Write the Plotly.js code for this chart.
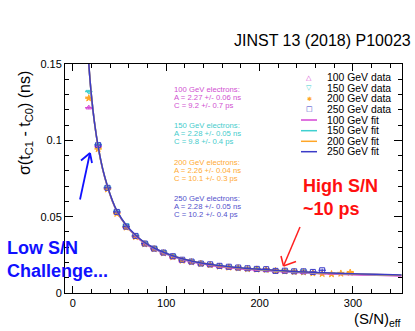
<!DOCTYPE html>
<html><head><meta charset="utf-8">
<script src="https://cdn.plot.ly/plotly-3.0.1.min.js"></script>
<style>html,body{margin:0;padding:0;background:#fff;}#chart{width:415px;height:331px;}</style>
</head><body><div id="chart"></div>
<script>
// ---- data ----
const snX = [17, 27, 37, 47, 57, 67, 77, 87, 97, 107, 117, 127, 137, 147, 157, 167, 177, 187, 197, 207, 217, 227, 237, 247, 257, 267, 277, 287, 297];
const sig100 = [0.1214, 0.0960, 0.0685, 0.0528, 0.0428, 0.0370, 0.0318, 0.0285, 0.0258, 0.0232, 0.0208, 0.0200, 0.0190, 0.0180, 0.0172, 0.0164, 0.0160, 0.0156, 0.0150, 0.0150, 0.0140, 0.0140, 0.0138, 0.0135, 0.0133];
const sig150 = [0.1319, 0.0972, 0.0693, 0.0536, 0.0445, 0.0378, 0.0328, 0.0296, 0.0270, 0.0244, 0.0216, 0.0208, 0.0195, 0.0186, 0.0176, 0.0170, 0.0165, 0.0160, 0.0157, 0.0152, 0.0143, 0.0145, 0.0141, 0.0143];
const sig200 = [0.1276, 0.0943, 0.0680, 0.0520, 0.0430, 0.0368, 0.0320, 0.0288, 0.0262, 0.0236, 0.0213, 0.0203, 0.0192, 0.0184, 0.0174, 0.0168, 0.0163, 0.0158, 0.0155, 0.0153, 0.0146, 0.0143, 0.0139, 0.0137, 0.0130, 0.0126, 0.0124, 0.0128, 0.0134];
const snX250 = [27, 37, 47, 57, 67, 77, 87, 97, 107, 117, 127, 137, 147, 157, 167, 177, 187, 197, 207, 217, 227, 237, 247, 257, 267];
const sig250 = [0.0969, 0.0689, 0.0531, 0.0435, 0.0374, 0.0324, 0.0291, 0.0265, 0.0241, 0.0218, 0.0206, 0.0193, 0.0188, 0.0178, 0.0172, 0.0167, 0.0162, 0.0158, 0.0156, 0.0145, 0.0146, 0.0142, 0.0142, 0.0138, 0.0149];
const errX = 4, errY = 0.001;

const fitX = [15, 17, 20, 23, 27, 32, 37, 42, 47, 57, 67, 77, 87, 97, 110, 127, 150, 175, 200, 225, 250, 275, 300, 325, 352];
const fit100 = [0.170, 0.150, 0.128, 0.112, 0.0955, 0.0805, 0.0695, 0.0605, 0.0535, 0.0440, 0.0374, 0.0324, 0.0289, 0.0261, 0.0232, 0.0204, 0.0179, 0.0161, 0.0149, 0.0139, 0.0131, 0.0125, 0.0120, 0.0116, 0.0112];
const fit150 = [0.170, 0.150, 0.128, 0.112, 0.0958, 0.0808, 0.0698, 0.0608, 0.0538, 0.0443, 0.0378, 0.0328, 0.0293, 0.0265, 0.0236, 0.0208, 0.0183, 0.0165, 0.0153, 0.0143, 0.0135, 0.0129, 0.0124, 0.0120, 0.0116];
const fit200 = [0.170, 0.150, 0.128, 0.112, 0.0958, 0.0808, 0.0698, 0.0608, 0.0538, 0.0443, 0.0378, 0.0328, 0.0294, 0.0266, 0.0237, 0.0209, 0.0184, 0.0166, 0.0154, 0.0144, 0.0136, 0.0130, 0.0125, 0.0121, 0.0117];
const fit250 = [0.170, 0.150, 0.128, 0.112, 0.0960, 0.0810, 0.0700, 0.0610, 0.0540, 0.0445, 0.0380, 0.0330, 0.0295, 0.0267, 0.0238, 0.0210, 0.0185, 0.0167, 0.0155, 0.0145, 0.0137, 0.0131, 0.0126, 0.0122, 0.0118];

const seriesNames = ['100 GeV', '150 GeV', '200 GeV', '250 GeV'];
const colors = ['#d445d4', '#3fd0d0', '#ffa628', '#3b3bc8'];
const textColors = ['#d050d0', '#45cccc', '#ffaa33', '#5252cc'];
const statLines = [
  ['100 GeV electrons:', 'A = 2.27 +/- 0.06 ns', 'C = 9.2 +/- 0.7 ps'],
  ['150 GeV electrons:', 'A = 2.28 +/- 0.05 ns', 'C = 9.8 +/- 0.4 ps'],
  ['200 GeV electrons:', 'A = 2.26 +/- 0.04 ns', 'C = 10.1 +/- 0.3 ps'],
  ['250 GeV electrons:', 'A = 2.28 +/- 0.05 ns', 'C = 10.2 +/- 0.4 ps']
];
const legendLabels = ['100 GeV data', '150 GeV data', '200 GeV data', '250 GeV data', '100 GeV fit', '150 GeV fit', '200 GeV fit', '250 GeV fit'];
const xTicks = [0, 100, 200, 300];
const yTicks = [0, 0.05, 0.1, 0.15];
const yTickText = ['0', '0.05', '0.1', '0.15'];

// ---- layout helpers (pixel -> paper) ----
const M = {l: 65, r: 13, t: 64, b: 38};
const W = 415, H = 331;
const PW = W - M.l - M.r, PH = H - M.t - M.b;
const px = v => (v - M.l) / PW;
const py = v => (H - M.b - v) / PH;
const FONT = 'Liberation Sans, Arial, Helvetica, sans-serif';

const symbols = ['triangle-up-open', 'triangle-down-open', 'star', 'square-open'];
const dataX = [snX.slice(0, sig100.length), snX.slice(0, sig150.length), snX.slice(0, sig200.length), snX250];
const dataY = [sig100, sig150, sig200, sig250];
const fitsY = [fit100, fit150, fit200, fit250];

const traces = [];
for (let i = 0; i < 4; i++) {
  traces.push({
    x: dataX[i], y: dataY[i], type: 'scatter', mode: 'markers', showlegend: false,
    marker: {symbol: symbols[i], size: 5, color: colors[i], line: {color: colors[i], width: 1}},
    error_x: {type: 'constant', value: errX, width: 0, color: colors[i], thickness: 1.2},
    error_y: {type: 'constant', value: errY, width: 0, color: colors[i], thickness: 1}
  });
}
for (let i = 0; i < 4; i++) {
  traces.push({
    x: fitX, y: fitsY[i], type: 'scatter', mode: 'lines', showlegend: false,
    line: {color: colors[i], width: 1.5, shape: 'spline', smoothing: 1}
  });
}

const annotations = [];
const shapes = [];
// stats text
const statTop = [89.5, 125.7, 162.3, 198.7];
for (let i = 0; i < 4; i++) {
  for (let j = 0; j < 3; j++) {
    annotations.push({xref: 'paper', yref: 'paper', x: px(173), y: py(statTop[i] + j * 8.1),
      xanchor: 'left', yanchor: 'middle', showarrow: false, text: statLines[i][j], borderpad: 0,
      font: {family: FONT, size: 7.7, color: textColors[i]}});
  }
}
// manual legend
const legRows = [77.7, 88.3, 98.7, 109, 120, 130.7, 141.3, 151.7];
const legGlyph = ['△', '▽', '✱', '□'];
for (let k = 0; k < 8; k++) {
  annotations.push({xref: 'paper', yref: 'paper', x: px(326), y: py(legRows[k]), xanchor: 'left', yanchor: 'middle',
    showarrow: false, text: legendLabels[k], borderpad: 0, font: {family: FONT, size: 10.4, color: '#000'}});
  if (k < 4) {
    annotations.push({xref: 'paper', yref: 'paper', x: px(309), y: py(legRows[k]), xanchor: 'center', yanchor: 'middle',
      showarrow: false, text: legGlyph[k], borderpad: 0, font: {family: 'DejaVu Sans', size: k === 2 ? 6 : 7, color: colors[k]}});
  } else {
    shapes.push({type: 'line', xref: 'paper', yref: 'paper', x0: px(301), x1: px(317), y0: py(legRows[k]), y1: py(legRows[k]),
      line: {color: colors[k - 4], width: 1.5}});
  }
}
// titles and notes
annotations.push({xref: 'paper', yref: 'paper', x: px(413), y: py(40), xanchor: 'right', yanchor: 'middle', showarrow: false,
  text: 'JINST 13 (2018) P10023', font: {family: FONT, size: 16, color: '#000'}});
annotations.push({xref: 'paper', yref: 'paper', x: px(403), y: py(319), xanchor: 'right', yanchor: 'middle', showarrow: false,
  text: '(S/N)<sub>eff</sub>', font: {family: FONT, size: 15, color: '#000'}});
annotations.push({xref: 'paper', yref: 'paper', x: px(25), y: py(123), xanchor: 'center', yanchor: 'middle', showarrow: false,
  textangle: -90, text: 'σ(t<sub>C1</sub> - t<sub>C0</sub>) (ns)', font: {family: FONT, size: 16, color: '#000'}});
annotations.push({xref: 'paper', yref: 'paper', x: px(5), y: py(248), xanchor: 'left', yanchor: 'middle', showarrow: false,
  text: '<b>Low S/N</b>', font: {family: FONT, size: 18, color: '#1010ff'}});
annotations.push({xref: 'paper', yref: 'paper', x: px(5), y: py(271), xanchor: 'left', yanchor: 'middle', showarrow: false,
  text: '<b>Challenge...</b>', font: {family: FONT, size: 18, color: '#1010ff'}});
annotations.push({xref: 'paper', yref: 'paper', x: px(301), y: py(186), xanchor: 'left', yanchor: 'middle', showarrow: false,
  text: '<b>High S/N</b>', font: {family: FONT, size: 18, color: '#ff1010'}});
annotations.push({xref: 'paper', yref: 'paper', x: px(301), y: py(209), xanchor: 'left', yanchor: 'middle', showarrow: false,
  text: '<b>~10 ps</b>', font: {family: FONT, size: 18, color: '#ff1010'}});

// arrows (pixel positions of the drawn arrows)
function arrow(tail, head, b1, b2, color, w) {
  [[tail, head], [b1, head], [b2, head]].forEach(([a, b]) => shapes.push({type: 'line', xref: 'paper', yref: 'paper',
    x0: px(a[0]), y0: py(a[1]), x1: px(b[0]), y1: py(b[1]), line: {color: color, width: w}}));
}
arrow([80, 199.5], [90, 153], [81, 160.5], [92, 163], '#1010ff', 1.8);
arrow([300, 227], [283.5, 266], [281, 256], [296, 261.5], '#ff2020', 1.5);

const axBase = {showgrid: false, zeroline: false, showline: true, linecolor: '#000', linewidth: 1, mirror: 'allticks',
  ticks: 'inside', tickcolor: '#000', tickfont: {family: FONT, size: 11, color: '#000'}};

const layout = {
  width: W, height: H, margin: M, paper_bgcolor: '#fff', plot_bgcolor: '#fff', showlegend: false,
  xaxis: Object.assign({}, axBase, {range: [-8.5, 352.5], tickvals: xTicks, ticklen: 7,
    minor: {dtick: 20, tick0: 0, ticklen: 4, ticks: 'inside', tickcolor: '#000', showgrid: false}}),
  yaxis: Object.assign({}, axBase, {range: [0, 0.15], tickvals: yTicks, ticktext: yTickText, ticklen: 8,
    minor: {dtick: 0.01, tick0: 0, ticklen: 4, ticks: 'inside', tickcolor: '#000', showgrid: false}}),
  annotations: annotations, shapes: shapes
};
Plotly.newPlot('chart', traces, layout, {staticPlot: true, displayModeBar: false});
</script></body></html>
